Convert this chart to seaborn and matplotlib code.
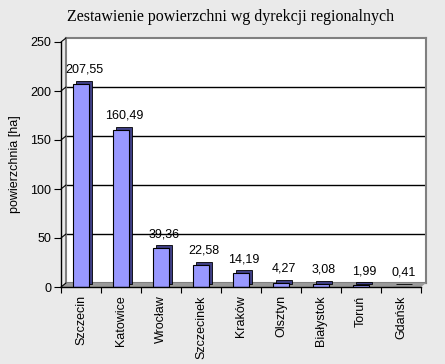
import matplotlib
matplotlib.use("Agg")
import matplotlib.pyplot as plt
import matplotlib.transforms as mtransforms
from matplotlib.patches import Polygon
import seaborn as sns
import pandas as pd

# data
regions = ["Szczecin", "Katowice", "Wrocław", "Szczecinek", "Kraków",
           "Olsztyn", "Białystok", "Toruń", "Gdańsk"]
area = [207.55, 160.49, 39.36, 22.58, 14.19, 4.27, 3.08, 1.99, 0.41]
yticks = [0, 50, 100, 150, 200, 250]
title = "Zestawienie powierzchni wg dyrekcji regionalnych"
ylabel = "powierzchnia [ha]"

df = pd.DataFrame({"region": regions, "area": area})

sns.set_style("ticks")
plt.rcParams["font.family"] = ["Liberation Sans", "DejaVu Sans"]

W, H = 445, 364
bg = "#eaeaea"
fig = plt.figure(figsize=(W / 100, H / 100), dpi=100, facecolor=bg)

# axis frame in pixels, plus the fake 3D depth of the back wall
x0, x1, y0, y1 = 61, 421, 287, 42
dx, dy = 5, 4
aw, ah = x1 - x0, y0 - y1

# back wall with gridlines
wall = fig.add_axes([(x0 + dx) / W, (H - y0 + dy) / H, aw / W, ah / H])
wall.set_facecolor("white")
wall.set_xlim(-0.5, len(regions) - 0.5)
wall.set_ylim(yticks[0], yticks[-1])
for v in yticks[1:-1]:
    wall.axhline(v, color="black", lw=1)
wall.set_xticks([])
wall.set_yticks([])
for s in wall.spines.values():
    s.set_color("#808080")
    s.set_linewidth(1.5)

# front axes holding the bars and the axis lines
ax = fig.add_axes([x0 / W, (H - y0) / H, aw / W, ah / H])
ax.set_facecolor("none")

# dark side/top of the columns: a shifted copy behind the front faces
sns.barplot(data=df, x="region", y="area", ax=ax, color="#3f3f85",
            width=0.4, saturation=1, edgecolor="black", linewidth=0.6)
shift = mtransforms.ScaledTranslation(0.03, 0.03, fig.dpi_scale_trans)
for p in ax.patches:
    p.set_transform(ax.transData + shift)
sns.barplot(data=df, x="region", y="area", ax=ax, color="#9999ff",
            width=0.4, saturation=1, edgecolor="black", linewidth=0.8)

# floor strip
fx, fy = dx / aw, dy / ah
floor = Polygon([(0, 0), (1, 0), (1 + fx, fy), (fx, fy)], closed=True,
                transform=ax.transAxes, facecolor="#9a9a9a",
                edgecolor="none", clip_on=False, zorder=0.5)
ax.add_patch(floor)

# short diagonal links from the ticks to the wall
for v in yticks:
    ax.plot([0, fx], [v, v + fy * yticks[-1]], transform=ax.get_yaxis_transform(),
            color="black", lw=0.8, clip_on=False)

# value labels, with decimal comma
for i, v in enumerate(area):
    ax.annotate(f"{v:.2f}".replace(".", ","), (i, v), xytext=(3, 11),
                textcoords="offset pixels", ha="center", va="baseline",
                fontsize=9, color="black")

ax.set_xlim(-0.5, len(regions) - 0.5)
ax.set_ylim(yticks[0], yticks[-1])
ax.set_yticks(yticks)
ax.set_xticks([i - 0.5 for i in range(len(regions) + 1)])
ax.set_xticklabels([])
ax.set_xticks(range(len(regions)), minor=True)
ax.set_xticklabels(regions, minor=True, rotation=90, fontsize=9, color="black")
ax.tick_params(axis="x", which="major", length=4, width=0.8, color="black")
ax.tick_params(axis="x", which="minor", length=0, pad=6)
ax.tick_params(axis="y", length=5, width=0.8, pad=2, labelsize=9,
               color="black", labelcolor="black")
ax.set_xlabel("")
ax.set_ylabel(ylabel, fontsize=9, color="black")
ax.yaxis.set_label_coords(-40 / aw, 0.5)
for side in ["top", "right"]:
    ax.spines[side].set_visible(False)
for side in ["left", "bottom"]:
    ax.spines[side].set_color("black")
    ax.spines[side].set_linewidth(1)

fig.text(231 / W, 1 - 17 / H, title, ha="center", va="center",
         family="Liberation Serif", fontsize=11.5, color="black")

fig.savefig("out.png", dpi=100, facecolor=bg)
